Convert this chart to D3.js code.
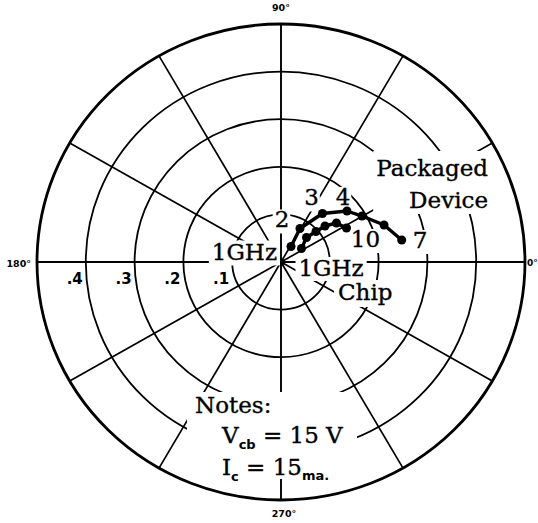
<!DOCTYPE html>
<html>
<head>
<meta charset="utf-8">
<script src="https://cdn.jsdelivr.net/npm/d3@7"></script>
<style>
  html, body { margin: 0; padding: 0; background: #fff; }
  svg { display: block; }
</style>
</head>
<body>
<div id="dataviz"></div>
<script>
"use strict";

// grid of the polar chart
const ringValues = [0.1, 0.2, 0.3, 0.4, 0.5];
const ringLabels = [".1", ".2", ".3", ".4"];
const spokeAngles = [0, 30, 60, 90, 120, 150, 180, 210, 240, 270, 300, 330];
const axisAngles = [0, 90, 180, 270];
const axisAngleLabels = ["0°", "90°", "180°", "270°"];

// packaged device curve (magnitude, angle in degrees)
const packagedFreq = [1, 2, 3, 4, 5, 6, 7];
const packagedMag = [0.0385, 0.0804, 0.1327, 0.1725, 0.192, 0.225, 0.2516];
const packagedAngle = [57.8, 61.1, 50.2, 38.4, 30.2, 20.2, 10.6];
const packagedLabels = ["1GHz", "2", "3", "4", "", "6", "7"];

// chip curve
const chipFreq = [1, 2, 4, 6, 8, 10];
const chipMag = [0.0507, 0.0734, 0.0962, 0.1177, 0.1401, 0.152];
const chipAngle = [34.1, 44.6, 41.8, 40, 35.8, 28];
const chipLabels = ["1GHz", "", "", "", "", "10"];

(function(){
    const measurements = {
        width: 538,
        height: 523,
        cx: 281,
        cy: 262,
        rx: 244,
        ry: 238
    }
    const serif = "'DejaVu Serif', serif";
    const sans = "'DejaVu Sans', sans-serif";

    // the scanned chart is a little wider than tall
    const scaleRX = d3.scaleLinear().domain([0, 0.5]).range([0, measurements.rx]);
    const scaleRY = d3.scaleLinear().domain([0, 0.5]).range([0, measurements.ry]);

    function toXY(mag, angleDeg) {
        const a = angleDeg * Math.PI / 180;
        return [measurements.cx + scaleRX(mag) * Math.cos(a),
                measurements.cy - scaleRY(mag) * Math.sin(a)];
    }

    const svgContainer = d3.select("#dataviz").append("svg")
        .attr("width", measurements.width)
        .attr("height", measurements.height)
        .style("background", "#fff");

    drawGrid();
    drawAxisLabels();
    const labelLayer = svgContainer.append("g");
    drawCurve(packagedMag, packagedAngle);
    drawCurve(chipMag, chipAngle);
    drawPointLabels(labelLayer);
    drawNotes(labelLayer);

    function drawGrid() {
        const grid = svgContainer.append("g");

        grid.selectAll(".ring")
            .data(ringValues)
            .enter().append("ellipse")
            .attr("cx", measurements.cx)
            .attr("cy", measurements.cy)
            .attr("rx", d => scaleRX(d))
            .attr("ry", d => scaleRY(d))
            .attr("fill", "none")
            .attr("stroke", "#000")
            .attr("stroke-width", d => d === 0.5 ? 2.8 : 1.8);

        grid.selectAll(".spoke")
            .data(spokeAngles)
            .enter().append("line")
            .attr("x1", measurements.cx)
            .attr("y1", measurements.cy)
            .attr("x2", d => toXY(0.5, d)[0])
            .attr("y2", d => toXY(0.5, d)[1])
            .attr("stroke", "#000")
            .attr("stroke-width", d => d % 90 === 0 ? 1.9 : 1.7);

        grid.append("circle")
            .attr("cx", measurements.cx)
            .attr("cy", measurements.cy)
            .attr("r", 3.5)
            .attr("fill", "#000");
    }

    function drawAxisLabels() {
        // magnitude labels under the 180 degree axis
        svgContainer.selectAll(".rlabel")
            .data(ringLabels)
            .enter().append("text")
            .attr("x", (d, i) => toXY(ringValues[i], 180)[0] - 3)
            .attr("y", measurements.cy + 22)
            .attr("text-anchor", "end")
            .style("font-family", sans)
            .style("font-weight", "bold")
            .style("font-size", "15px")
            .text(d => d);

        const offsets = {
            0: [246, 4, "start"],
            90: [0, -13, "middle"],
            180: [-250, 5, "end"],
            270: [3, 255, "middle"]
        }
        svgContainer.selectAll(".alabel")
            .data(axisAngles)
            .enter().append("text")
            .attr("x", d => measurements.cx + offsets[d][0])
            .attr("y", d => d === 90 ? toXY(0.5, 90)[1] + offsets[d][1]
                          : measurements.cy + offsets[d][1])
            .attr("text-anchor", d => offsets[d][2])
            .style("font-family", sans)
            .style("font-weight", "bold")
            .style("font-size", d => d === 0 ? "9px" : "9.5px")
            .text((d, i) => axisAngleLabels[i]);
    }

    function drawCurve(mags, angles) {
        const pts = mags.map((m, i) => toXY(m, angles[i]));
        svgContainer.append("path")
            .attr("d", d3.line()(pts))
            .attr("fill", "none")
            .attr("stroke", "#000")
            .attr("stroke-width", 3.4)
            .attr("stroke-linejoin", "round");
        svgContainer.selectAll(null)
            .data(pts)
            .enter().append("circle")
            .attr("cx", d => d[0])
            .attr("cy", d => d[1])
            .attr("r", 4.5)
            .attr("fill", "#000");
    }

    function textStyle(sel) {
        return sel.style("font-family", serif)
            .style("font-size", "23px")
            .style("stroke", "#000")
            .style("stroke-width", "0.35px");
    }

    // text with a white patch behind it, like the pasted labels on the original
    function addLabel(parent, x, y, str, anchor, pad) {
        const g = parent.append("g");
        const t = g.append("text")
            .attr("x", x)
            .attr("y", y)
            .attr("text-anchor", anchor)
            .call(textStyle)
            .text(str);
        const b = t.node().getBBox();
        g.insert("rect", "text")
            .attr("x", b.x - pad[0])
            .attr("y", b.y + 5 - pad[1])
            .attr("width", b.width + pad[0] + pad[2])
            .attr("height", b.height - 5 + pad[1] + pad[3])
            .attr("fill", "#fff");
        return g;
    }

    function drawPointLabels(layer) {
        // label offsets from the point they name: [dx, dy, anchor]
        const pkOffsets = {
            "1GHz": [-14, 14, "end"],
            "2": [-18, -1, "middle"],
            "3": [-11, -8, "middle"],
            "4": [-4, -6, "middle"],
            "6": [-1, -12, "middle"],
            "7": [11, 8, "start"]
        }
        const chipOffsets = {
            "1GHz": [-3, 27.5, "start"],
            "10": [19, 19, "middle"]
        }
        packagedLabels.forEach((lab, i) => {
            if (!lab) return;
            const p = toXY(packagedMag[i], packagedAngle[i]);
            const o = pkOffsets[lab];
            addLabel(layer, p[0] + o[0], p[1] + o[1], lab, o[2], lab === "1GHz" ? [3, 4, 3, 0] : [2, 2, 1, 1]);
        });
        chipLabels.forEach((lab, i) => {
            if (!lab) return;
            const p = toXY(chipMag[i], chipAngle[i]);
            const o = chipOffsets[lab];
            addLabel(layer, p[0] + o[0], p[1] + o[1], lab, o[2], lab === "1GHz" ? [3, 3, 3, 0] : [2, 2, 0, 1]);
        });

        // series names
        const pk = layer.append("g");
        pk.append("text").attr("x", 488).attr("y", 176).attr("text-anchor", "end")
            .call(textStyle).text("Packaged");
        pk.append("text").attr("x", 488).attr("y", 208).attr("text-anchor", "end")
            .call(textStyle).text("Device");
        const pb = pk.node().getBBox();
        pk.insert("rect", "text")
            .attr("x", pb.x - 3).attr("y", 151)
            .attr("width", pb.width + 6).attr("height", 214 - 151)
            .attr("fill", "#fff");

        addLabel(layer, 338, 300, "Chip", "start", [4, 4, 3, 2]);
    }

    function drawNotes(layer) {
        const notes = layer.append("g");
        notes.append("text").attr("x", 195).attr("y", 413)
            .call(textStyle).text("Notes:");

        const v = notes.append("text").attr("x", 222).attr("y", 443)
            .call(textStyle);
        v.append("tspan").text("V");
        v.append("tspan").attr("dy", 6).style("font-family", sans)
            .style("font-weight", "bold").style("font-size", "13px").style("stroke", "none").text("cb");
        v.append("tspan").attr("dy", -6).text(" = 15 V");

        const c = notes.append("text").attr("x", 222).attr("y", 475)
            .call(textStyle);
        c.append("tspan").text("I");
        c.append("tspan").attr("dy", 6).style("font-family", sans)
            .style("font-weight", "bold").style("font-size", "13px").style("stroke", "none").text("c");
        c.append("tspan").attr("dy", -6).text(" = 15");
        c.append("tspan").attr("dy", 5).style("font-family", sans)
            .style("font-weight", "bold").style("font-size", "13px").style("stroke", "none").text("ma.");

        notes.insert("rect", "text")
            .attr("x", 187).attr("y", 392)
            .attr("width", 170).attr("height", 87)
            .attr("fill", "#fff");
    }
})()
</script>
</body>
</html>
